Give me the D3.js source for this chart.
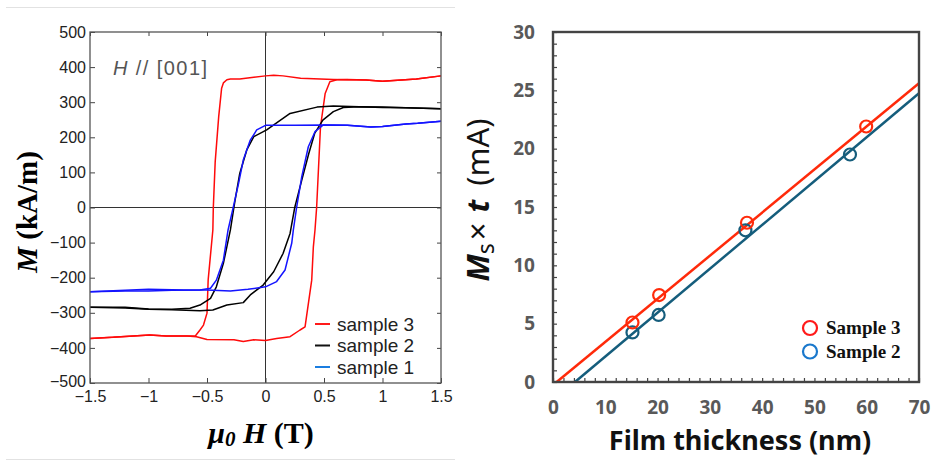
<!DOCTYPE html>
<html>
<head>
<meta charset="utf-8">
<script src="https://cdn.jsdelivr.net/npm/d3@7"></script>
<style>
  body { margin: 0; background: #fff; }
  svg { display: block; }
</style>
</head>
<body>
<div id="chart"></div>
<script>
// ---- left panel: M-H loops (H in T, M in kA/m) ----
const fieldTicks = [-1.5, -1, -0.5, 0, 0.5, 1, 1.5];
const magTicks = [-500, -400, -300, -200, -100, 0, 100, 200, 300, 400, 500];

const sample3Down = [[1.5, 375], [1.29, 366], [1.0, 360], [0.86, 363], [0.58, 365], [0.3, 368], [0.15, 375], [0.07, 377], [0.0, 375], [-0.1, 371], [-0.22, 366], [-0.3, 366], [-0.33, 364], [-0.36, 355], [-0.375, 340], [-0.4, 259], [-0.43, 130], [-0.446, 0], [-0.45, -64], [-0.49, -206], [-0.5, -301], [-0.53, -335], [-0.56, -349], [-0.6, -366], [-0.67, -366], [-0.85, -366], [-0.99, -363], [-1.13, -366], [-1.3, -370], [-1.5, -373]];
const sample3Up = [[-1.5, -373], [-1.13, -366], [-0.99, -363], [-0.85, -366], [-0.67, -366], [-0.59, -368], [-0.5, -376], [-0.27, -377], [-0.19, -382], [-0.1, -377], [0.0, -379], [0.095, -373], [0.21, -368], [0.295, -349], [0.338, -340], [0.395, -207], [0.409, -112], [0.423, -64], [0.437, 0], [0.47, 230], [0.51, 325], [0.55, 358], [0.61, 364], [0.7, 365], [0.86, 363], [1.0, 360], [1.29, 366], [1.5, 375]];

const sample2Down = [[1.5, 281], [1.2, 284], [1.0, 285], [0.8, 287], [0.58, 289], [0.44, 286], [0.21, 268], [0.01, 221], [-0.1, 202], [-0.16, 164], [-0.22, 97], [-0.26, 21], [-0.27, 0], [-0.3, -64], [-0.36, -159], [-0.42, -226], [-0.47, -259], [-0.56, -278], [-0.645, -287], [-0.8, -290], [-1.0, -289], [-1.2, -284], [-1.5, -284]];
const sample2Up = [[-1.5, -284], [-1.2, -286], [-1.0, -290], [-0.8, -291], [-0.56, -294], [-0.45, -292], [-0.33, -278], [-0.19, -271], [-0.13, -249], [-0.02, -221], [0.07, -183], [0.15, -131], [0.21, -74], [0.25, 0], [0.31, 78], [0.37, 154], [0.42, 211], [0.49, 249], [0.58, 273], [0.665, 285], [0.8, 287], [1.0, 286], [1.2, 284], [1.5, 281]];

const sample1Down = [[1.5, 246], [1.3, 240], [1.2, 238], [1.0, 231], [0.9, 229], [0.7, 234], [0.5, 235], [0.25, 234], [0.0, 234], [-0.075, 221], [-0.13, 192], [-0.19, 135], [-0.23, 69], [-0.275, 2], [-0.32, -64], [-0.36, -150], [-0.42, -207], [-0.47, -230], [-0.56, -235], [-0.8, -236], [-1.0, -238], [-1.2, -238], [-1.5, -240]];
const sample1Up = [[-1.5, -240], [-1.2, -236], [-1.0, -233], [-0.7, -235], [-0.5, -235], [-0.3, -238], [-0.15, -233], [0.0, -226], [0.095, -211], [0.167, -178], [0.224, -102], [0.238, -64], [0.266, 0], [0.31, 88], [0.366, 173], [0.423, 216], [0.494, 235], [0.7, 234], [0.9, 229], [1.0, 231], [1.2, 238], [1.3, 240], [1.5, 246]];

const loopNames = ["sample 3", "sample 2", "sample 1"];
const loopColors = ["#ff0a0a", "#000000", "#1414ff"];
const loopLegendColors = ["#ff1a1a", "#111111", "#1a7de0"];

// ---- right panel: Ms x t vs film thickness ----
const thicknessTicks = [0, 10, 20, 30, 40, 50, 60, 70];
const mstTicks = [0, 5, 10, 15, 20, 25, 30];
const thick3 = [15.2, 20.3, 37.1, 59.9];
const mst3 = [5.1, 7.45, 13.65, 21.9];
const thick2 = [15.2, 20.2, 36.8, 56.8];
const mst2 = [4.25, 5.75, 13.0, 19.5];
const fit3 = [[0.7, 0], [70, 25.6]];
const fit2 = [[4.2, 0], [70, 24.75]];
const sampleNames = ["Sample 3", "Sample 2"];

const svg = d3.select("#chart").append("svg")
  .attr("width", 937).attr("height", 469)
  .attr("viewBox", "0 0 937 469");

// thin separator lines of the original figure
svg.append("line").attr("x1", 6).attr("x2", 455).attr("y1", 7.5).attr("y2", 7.5)
  .attr("stroke", "#e2e2e2");
svg.append("line").attr("x1", 6).attr("x2", 455).attr("y1", 459.5).attr("y2", 459.5)
  .attr("stroke", "#e2e2e2");

function drawLoops() {
  const m = { left: 90, top: 32, right: 441, bottom: 383 };
  const x = d3.scaleLinear().domain([-1.5, 1.5]).range([m.left, m.right]);
  const y = d3.scaleLinear().domain([-500, 500]).range([m.bottom, m.top]);
  const g = svg.append("g");
  const font = "'Liberation Sans', Arial, sans-serif";

  // zero lines
  g.append("line").attr("x1", x(0)).attr("x2", x(0)).attr("y1", m.top).attr("y2", m.bottom)
    .attr("stroke", "#333").attr("stroke-width", 1);
  g.append("line").attr("x1", m.left).attr("x2", m.right).attr("y1", y(0)).attr("y2", y(0))
    .attr("stroke", "#333").attr("stroke-width", 1);

  const line = d3.line().x((d) => x(d[0])).y((d) => y(d[1])).curve(d3.curveLinear);
  const loops = [[sample3Down, sample3Up], [sample2Down, sample2Up], [sample1Down, sample1Up]];
  loops.forEach((pair, i) => {
    pair.forEach((branch) => {
      g.append("path").datum(branch).attr("d", line)
        .attr("fill", "none").attr("stroke", loopColors[i])
        .attr("stroke-width", 1.5).attr("stroke-linejoin", "round");
    });
  });

  // axes with inward ticks
  const fmt = d3.format("");
  const xb = g.append("g").attr("transform", `translate(0,${m.bottom})`)
    .call(d3.axisBottom(x).tickValues(fieldTicks).tickSizeInner(-5).tickSizeOuter(0)
      .tickPadding(8).tickFormat(fmt));
  const xt = g.append("g").attr("transform", `translate(0,${m.top})`)
    .call(d3.axisTop(x).tickValues(fieldTicks).tickSizeInner(-4).tickSizeOuter(0).tickFormat(""));
  const yl = g.append("g").attr("transform", `translate(${m.left},0)`)
    .call(d3.axisLeft(y).tickValues(magTicks).tickSizeInner(-5).tickSizeOuter(0)
      .tickPadding(4).tickFormat(fmt));
  const yr = g.append("g").attr("transform", `translate(${m.right},0)`)
    .call(d3.axisRight(y).tickValues(magTicks).tickSizeInner(-4).tickSizeOuter(0).tickFormat(""));
  [xb, xt, yl, yr].forEach((a) => {
    a.select(".domain").remove();
    a.selectAll("line").attr("stroke", "#444");
    a.selectAll("text").attr("fill", "#222").style("font-family", font).style("font-size", "16px");
  });
  // lift the bottom y label a touch so it clears the x labels
  yl.selectAll("text").filter((d) => d === -500).attr("dy", "0.2em");

  g.append("rect").attr("x", m.left).attr("y", m.top)
    .attr("width", m.right - m.left).attr("height", m.bottom - m.top)
    .attr("fill", "none").attr("stroke", "#555").attr("stroke-width", 1.3);

  // annotation
  const ann = g.append("text").attr("x", 113).attr("y", 75)
    .attr("fill", "#555").style("font-family", font)
    .style("font-size", "20px").attr("textLength", 94);
  ann.append("tspan").attr("font-style", "italic").text("H");
  ann.append("tspan").text(" // [001]");

  // legend
  loopNames.forEach((name, i) => {
    const ly = 324 + i * 21.5;
    g.append("line").attr("x1", 315).attr("x2", 330).attr("y1", ly).attr("y2", ly)
      .attr("stroke", loopLegendColors[i]).attr("stroke-width", 2);
    g.append("text").attr("x", 337).attr("y", ly + 6.5)
      .attr("fill", "#222").style("font-family", font).style("font-size", "19px")
      .text(name);
  });

  // axis titles
  const serif = "'Liberation Serif', 'Times New Roman', serif";
  const xt2 = g.append("text").attr("x", 261).attr("y", 443).attr("text-anchor", "middle")
    .style("font-family", serif).style("font-size", "30px").style("font-weight", "bold");
  xt2.append("tspan").attr("font-style", "italic").text("μ");
  xt2.append("tspan").attr("font-style", "italic").style("font-size", "21px").attr("dy", 3).text("0");
  xt2.append("tspan").attr("font-style", "italic").attr("dy", -3).text(" H");
  xt2.append("tspan").text(" (T)");

  const yt = g.append("text").attr("transform", "translate(37,212) rotate(-90)")
    .attr("text-anchor", "middle")
    .style("font-family", serif).style("font-size", "29px").style("font-weight", "bold");
  yt.append("tspan").attr("font-style", "italic").text("M");
  yt.append("tspan").text(" (kA/m)");
}

function drawThickness() {
  const m = { left: 553, top: 32, right: 919, bottom: 382 };
  const x = d3.scaleLinear().domain([0, 70]).range([m.left, m.right]);
  const y = d3.scaleLinear().domain([0, 30]).range([m.bottom, m.top]);
  const g = svg.append("g");
  const font = "'Noto Sans', 'Open Sans', sans-serif";

  // minor (inward) ticks
  const xm = g.append("g").attr("transform", `translate(0,${m.bottom})`)
    .call(d3.axisBottom(x).tickValues(d3.range(0, 71, 2)).tickSizeInner(-4).tickSizeOuter(0).tickFormat(""));
  const ym = g.append("g").attr("transform", `translate(${m.left},0)`)
    .call(d3.axisLeft(y).tickValues(d3.range(0, 31, 1)).tickSizeInner(-4).tickSizeOuter(0).tickFormat(""));
  // labels
  const xl = g.append("g").attr("transform", `translate(0,${m.bottom})`)
    .call(d3.axisBottom(x).tickValues(thicknessTicks).tickSize(0).tickPadding(19).tickFormat(d3.format("")));
  const yl = g.append("g").attr("transform", `translate(${m.left},0)`)
    .call(d3.axisLeft(y).tickValues(mstTicks).tickSize(0).tickPadding(18).tickFormat(d3.format("")));
  [xm, ym, xl, yl].forEach((a) => {
    a.select(".domain").remove();
    a.selectAll("line").attr("stroke", "#444").attr("stroke-width", 1.2);
    a.selectAll("text").attr("fill", "#595959").style("font-family", font)
      .style("font-size", "19px").style("font-weight", "bold");
  });

  const line = d3.line().x((d) => x(d[0])).y((d) => y(d[1]));
  g.append("path").datum(fit2).attr("d", line).attr("stroke", "#155d7c").attr("stroke-width", 2.5).attr("fill", "none");
  g.append("path").datum(fit3).attr("d", line).attr("stroke", "#ff2a0a").attr("stroke-width", 2.5).attr("fill", "none");

  g.selectAll(".p2").data(d3.zip(thick2, mst2)).join("circle")
    .attr("cx", (d) => x(d[0])).attr("cy", (d) => y(d[1])).attr("r", 6)
    .attr("fill", "none").attr("stroke", "#155d7c").attr("stroke-width", 2.2);
  g.selectAll(".p3").data(d3.zip(thick3, mst3)).join("circle")
    .attr("cx", (d) => x(d[0])).attr("cy", (d) => y(d[1])).attr("r", 6)
    .attr("fill", "none").attr("stroke", "#ff2a0a").attr("stroke-width", 2.2);

  // frame
  g.append("rect").attr("x", m.left).attr("y", m.top)
    .attr("width", m.right - m.left).attr("height", m.bottom - m.top)
    .attr("fill", "none").attr("stroke", "#444").attr("stroke-width", 2.4);

  // legend
  const legColors = ["#ff1a1a", "#1a78cc"];
  sampleNames.forEach((name, i) => {
    const ly = 328 + i * 23.5;
    g.append("circle").attr("cx", 810).attr("cy", ly).attr("r", 7)
      .attr("fill", "none").attr("stroke", legColors[i]).attr("stroke-width", 2.2);
    g.append("text").attr("x", 826).attr("y", ly + 6)
      .attr("fill", "#111").style("font-family", "'Liberation Serif', serif")
      .style("font-size", "19px").style("font-weight", "bold").text(name);
  });

  // axis titles
  g.append("text").attr("x", 740).attr("y", 450).attr("text-anchor", "middle")
    .attr("fill", "#111").style("font-family", font).style("font-size", "27px")
    .style("font-weight", "bold").text("Film thickness (nm)");

  const yt = g.append("text").attr("transform", "translate(489,200) rotate(-90)")
    .attr("text-anchor", "middle").attr("fill", "#111")
    .style("font-family", font).style("font-size", "31px");
  yt.append("tspan").attr("font-style", "italic").attr("font-weight", "bold").text("M");
  yt.append("tspan").style("font-size", "23px").attr("dy", 5).text("s");
  yt.append("tspan").attr("dy", -5).attr("dx", 3).text("×");
  yt.append("tspan").attr("dx", 10).attr("font-style", "italic").attr("font-weight", "bold").text("t");
  yt.append("tspan").attr("dx", 14).text("(mA)");
}

drawLoops();
drawThickness();
</script>
</body>
</html>
